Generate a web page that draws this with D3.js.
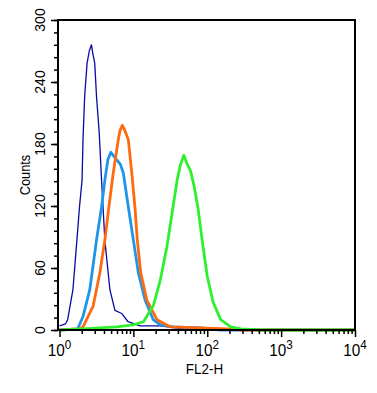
<!DOCTYPE html>
<html>
<head>
<meta charset="utf-8">
<script src="https://cdn.jsdelivr.net/npm/d3@7"></script>
<style>
  body { margin: 0; background: #fff; }
  svg { display: block; }
</style>
</head>
<body>
<div id="chart"></div>
<script>
// Histogram data: [FL2-H, counts]
var darkBlue = [[1, 4], [1.21, 6], [1.29, 10], [1.52, 39], [1.72, 87], [1.87, 120], [2.02, 145],
  [2.08, 184], [2.19, 226], [2.36, 258], [2.53, 270], [2.71, 276], [2.82, 268], [3.0, 258],
  [3.17, 226], [3.44, 192], [3.51, 180], [3.71, 145], [4.11, 87], [4.81, 39], [5.63, 19],
  [6.95, 16], [8.47, 8], [12.3, 4], [23.1, 4], [37, 2], [59.4, 0], [10000, 0]];

var lightBlue = [[1, 0], [1.76, 1], [2.08, 13], [2.57, 39], [3.17, 87], [3.71, 119], [4.11, 145],
  [4.52, 165], [4.96, 172], [5.45, 168], [6.24, 163], [6.69, 160], [7.31, 152], [8.55, 119],
  [10.0, 87], [11.7, 55], [14.4, 29], [18.6, 10], [23.1, 5], [34.8, 3], [81.3, 2], [152, 0], [10000, 0]];

var orange = [[1, 0], [1.87, 1], [2.08, 3], [2.85, 23], [3.51, 55], [4.11, 87], [4.66, 119],
  [5.34, 152], [6.24, 184], [6.59, 193], [7.08, 198], [7.59, 194], [8.55, 184], [9.51, 152],
  [10.5, 119], [11.3, 87], [12.6, 55], [15.2, 29], [20.9, 10], [31.7, 3], [81.3, 2], [190, 1],
  [286, 0], [10000, 0]];

var green = [[1, 0], [2.06, 1], [5.94, 3], [9.91, 5], [13.7, 8], [15.4, 14], [18.7, 24], [23.1, 48],
  [28.5, 81], [33.4, 113], [39.1, 145], [43.4, 160], [48.1, 169], [52.4, 162], [59.4, 154],
  [66, 140], [75, 118], [86, 85], [100, 52], [120, 27], [152, 10], [208, 3], [286, 1],
  [535, 0], [10000, 0]];

var xTicks = [1, 10, 100, 1000, 10000];
var yTicks = [0, 60, 120, 180, 240, 300];

var margin = { top: 20, right: 22, bottom: 63, left: 58 },
    width = 377 - margin.left - margin.right,
    height = 393 - margin.top - margin.bottom;

var svg = d3.select('#chart').append('svg')
    .attr('width', 377)
    .attr('height', 393)
  .append('g')
    .attr('transform', 'translate(' + margin.left + ',' + margin.top + ')');

var x = d3.scaleLog().domain([1, 10000]).range([1.5, width]);
var y = d3.scaleLinear().domain([0, 300]).range([height, 0]);

var line = d3.line()
    .x(function (d) { return x(d[0]); })
    .y(function (d) { return y(d[1]); });

// Curves
var series = [
  { data: darkBlue, color: '#0a0aa5', w: 1.3 },
  { data: lightBlue, color: '#1e96e8', w: 2.8 },
  { data: orange, color: '#ff6a10', w: 2.8 },
  { data: green, color: '#2ff02f', w: 2.8 }
];
series.forEach(function (s) {
  svg.append('path')
      .datum(s.data)
      .attr('d', line)
      .attr('fill', 'none')
      .attr('stroke', s.color)
      .attr('stroke-width', s.w)
      .attr('stroke-linejoin', 'round');
});

// Minor ticks
var xMinor = [];
for (var e = 0; e < 4; e++) {
  for (var m = 2; m < 10; m++) xMinor.push(m * Math.pow(10, e));
}
svg.append('g')
    .attr('transform', 'translate(0,' + height + ')')
    .call(d3.axisBottom(x).tickValues(xMinor).tickSize(4).tickFormat(''))
    .call(function (g) { g.select('.domain').remove(); })
    .selectAll('line').attr('stroke-width', 1.5);

var yMinor = d3.range(0, 301, 12);
svg.append('g')
    .call(d3.axisLeft(y).tickValues(yMinor).tickSize(4).tickFormat(''))
    .call(function (g) { g.select('.domain').remove(); })
    .selectAll('line').attr('stroke-width', 1.5);

// Major ticks
var xAxis = svg.append('g')
    .attr('transform', 'translate(0,' + height + ')')
    .call(d3.axisBottom(x).tickValues(xTicks).tickSize(7).tickFormat(''));
xAxis.select('.domain').remove();
xAxis.selectAll('line').attr('stroke-width', 1.5);

var yAxis = svg.append('g')
    .call(d3.axisLeft(y).tickValues(yTicks).tickSize(7).tickFormat(''));
yAxis.select('.domain').remove();
yAxis.selectAll('line').attr('stroke-width', 1.5);

// Frame
svg.append('rect')
    .attr('x', 0)
    .attr('y', 0)
    .attr('width', width)
    .attr('height', height)
    .attr('fill', 'none')
    .attr('stroke', '#000')
    .attr('stroke-width', 2);

// X tick labels: 10 with superscript exponent
svg.selectAll('.xlab')
    .data(xTicks)
    .enter().append('text')
    .attr('class', 'xlab')
    .attr('transform', function (d) { return 'translate(' + x(d) + ',' + (height + 26) + ') scale(0.9,1)'; })
    .attr('text-anchor', 'middle')
    .style('font', 'normal 17px "Liberation Sans", Arial, sans-serif')
    .each(function (d) {
      var t = d3.select(this);
      t.append('tspan').text('10');
      t.append('tspan')
          .attr('dy', -7)
          .style('font-size', '13px')
          .text(Math.round(Math.log10(d)));
    });

// Y tick labels (rotated)
svg.selectAll('.ylab')
    .data(yTicks)
    .enter().append('text')
    .attr('class', 'ylab')
    .attr('transform', function (d) { return 'translate(-13,' + y(d) + ') rotate(-90)'; })
    .attr('text-anchor', 'middle')
    .style('font', 'normal 14px "Liberation Sans", Arial, sans-serif')
    .text(function (d) { return d; });

// Axis titles
svg.append('text')
    .attr('transform', 'translate(' + (width / 2 - 2) + ',' + (height + 44) + ') scale(0.9,1)')
    .attr('text-anchor', 'middle')
    .style('font', 'normal 15px "Liberation Sans", Arial, sans-serif')
    .text('FL2-H');

svg.append('text')
    .attr('transform', 'translate(-28,' + (height / 2) + ') rotate(-90) scale(0.85,1)')
    .attr('text-anchor', 'middle')
    .style('font', 'normal 15px "Liberation Sans", Arial, sans-serif')
    .text('Counts');
</script>
</body>
</html>
